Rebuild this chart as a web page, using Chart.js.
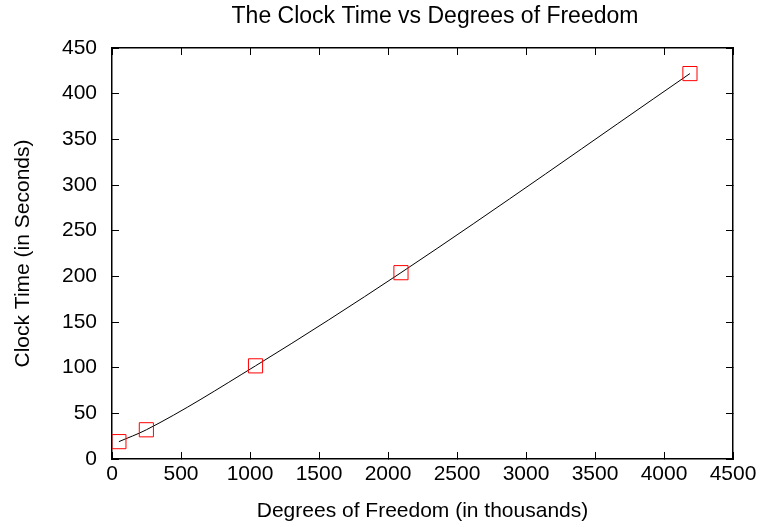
<!DOCTYPE html>
<html>
<head>
<meta charset="utf-8">
<script src="https://cdn.jsdelivr.net/npm/chart.js@4/dist/chart.umd.min.js"></script>
<style>
  html, body { margin: 0; padding: 0; background: #fff; }
  #chart { display: block; }
</style>
</head>
<body>
<canvas id="chart" width="761" height="527"></canvas>
<script>
// degrees of freedom (thousands) against measured clock time (seconds)
const dofThousands = [50, 249, 1040, 2094, 4188];
const clockSeconds = [19, 32, 102, 204, 422];

const xTickValues = [0, 500, 1000, 1500, 2000, 2500, 3000, 3500, 4000, 4500];
const yTickValues = [0, 50, 100, 150, 200, 250, 300, 350, 400, 450];

const chartTitle = "The Clock Time vs Degrees of Freedom";
const xTitle = "Degrees of Freedom (in thousands)";
const yTitle = "Clock Time (in Seconds)";

Chart.defaults.font.family = '"Liberation Sans", Arial, sans-serif';
Chart.defaults.font.size = 21;
Chart.defaults.color = "#000";

// plot title sits a little right of the canvas centre
const titlePlugin = {
  id: "plotTitle",
  afterDraw(chart) {
    const ctx = chart.ctx;
    ctx.save();
    ctx.font = '23px "Liberation Sans", Arial, sans-serif';
    ctx.fillStyle = "#000";
    ctx.textAlign = "center";
    ctx.textBaseline = "middle";
    ctx.fillText(chartTitle, 435, 17);
    ctx.restore();
  }
};

// inward tick marks on every side of the frame
function frameGrid() {
  return { drawOnChartArea: false, tickLength: -7, color: "#000", lineWidth: 1 };
}
const frameBorder = { color: "#000", width: 1.5 };

// keep the plot area fixed: no extra room for overhanging edge labels
function fixSize(prop, size) {
  return (s) => {
    s[prop] = size;
    s.paddingLeft = 0;
    s.paddingRight = 0;
    s.paddingTop = 0;
    s.paddingBottom = 0;
  };
}

const points = dofThousands.map((x, i) => ({ x: x, y: clockSeconds[i] }));

new Chart(document.getElementById("chart"), {
  type: "scatter",
  data: {
    datasets: [
      {
        data: points,
        showLine: true,
        borderColor: "#000",
        borderWidth: 1,
        cubicInterpolationMode: "monotone",
        pointStyle: "rect",
        pointRadius: 10,
        pointHoverRadius: 10,
        pointBorderColor: "#ff0000",
        pointBackgroundColor: "rgba(0,0,0,0)",
        pointBorderWidth: 1,
        xAxisID: "x",
        yAxisID: "y"
      }
    ]
  },
  options: {
    responsive: false,
    animation: false,
    devicePixelRatio: 1,
    layout: { padding: { top: 48, right: 28, bottom: 0, left: 0 } },
    plugins: {
      legend: { display: false },
      tooltip: { enabled: false },
      title: { display: false }
    },
    scales: {
      x: {
        type: "linear",
        position: "bottom",
        min: 0,
        max: 4500,
        afterBuildTicks: (s) => { s.ticks = xTickValues.map((v) => ({ value: v })); },
        afterFit: fixSize("height", 68),
        border: frameBorder,
        grid: frameGrid(),
        ticks: { padding: 10, maxRotation: 0, autoSkip: false, callback: (v) => String(v) },
        title: { display: true, text: xTitle, padding: { top: 0, bottom: 3 } }
      },
      x2: {
        type: "linear",
        axis: "x",
        position: "top",
        min: 0,
        max: 4500,
        afterBuildTicks: (s) => { s.ticks = xTickValues.map((v) => ({ value: v })); },
        afterFit: fixSize("height", 0),
        border: frameBorder,
        grid: frameGrid(),
        ticks: { display: false }
      },
      y: {
        type: "linear",
        position: "left",
        min: 0,
        max: 450,
        afterBuildTicks: (s) => { s.ticks = yTickValues.map((v) => ({ value: v })); },
        afterFit: fixSize("width", 112),
        border: frameBorder,
        grid: frameGrid(),
        ticks: { padding: 22, autoSkip: false, callback: (v) => String(v) },
        title: { display: true, text: yTitle, padding: { top: 11, bottom: 0 } }
      },
      y2: {
        type: "linear",
        axis: "y",
        position: "right",
        min: 0,
        max: 450,
        afterBuildTicks: (s) => { s.ticks = yTickValues.map((v) => ({ value: v })); },
        afterFit: fixSize("width", 0),
        border: frameBorder,
        grid: frameGrid(),
        ticks: { display: false }
      }
    }
  },
  plugins: [titlePlugin]
});
</script>
</body>
</html>
